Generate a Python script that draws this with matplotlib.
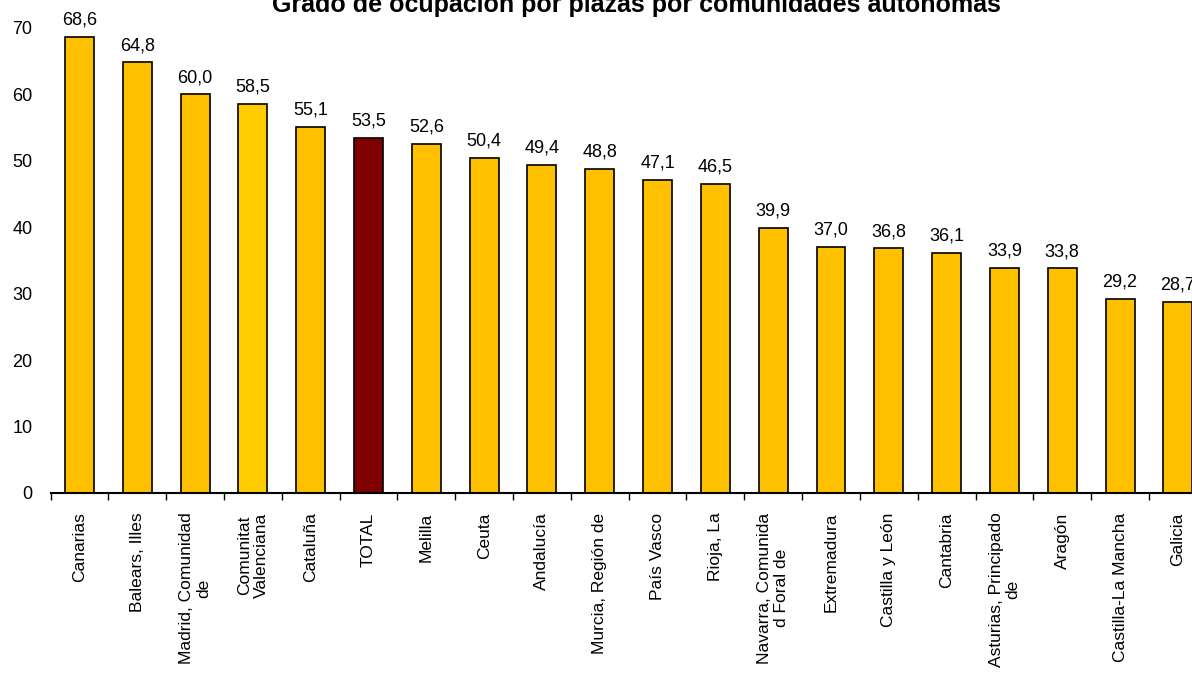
import matplotlib.pyplot as plt
import numpy as np

plt.rcParams['font.family'] = ['Liberation Sans', 'DejaVu Sans']

# Grado de ocupación por plazas (%)
regions = ['Canarias', 'Balears, Illes', 'Madrid, Comunidad\nde', 'Comunitat\nValenciana',
           'Cataluña', 'TOTAL', 'Melilla', 'Ceuta', 'Andalucía', 'Murcia, Región de',
           'País Vasco', 'Rioja, La', 'Navarra, Comunida\nd Foral de', 'Extremadura',
           'Castilla y León', 'Cantabria', 'Asturias, Principado\nde', 'Aragón',
           'Castilla-La Mancha', 'Galicia']
values = [68.6, 64.8, 60.0, 58.5, 55.1, 53.5, 52.6, 50.4, 49.4, 48.8,
          47.1, 46.5, 39.9, 37.0, 36.8, 36.1, 33.9, 33.8, 29.2, 28.7]

colors = ['#FFC000'] * len(regions)
colors[regions.index('TOTAL')] = '#800000'
colors[regions.index('Comunitat\nValenciana')] = '#FFCC00'

fig = plt.figure(figsize=(11.92, 6.73), dpi=100)
ax = fig.add_axes([0.0424, 0.2675, 0.970, 0.691])

x = np.arange(len(regions))
bars = ax.bar(x, values, width=0.5, color=colors, edgecolor='black', linewidth=1.2)

for b, v in zip(bars, values):
    ax.annotate(f'{v:.1f}'.replace('.', ','), (b.get_x() + b.get_width() / 2, v),
                xytext=(0, 6), textcoords='offset points', ha='center', va='bottom',
                fontsize=13, annotation_clip=False)

ax.set_xlim(-0.5, len(regions) - 0.5)
ax.set_ylim(0, 70)
ax.set_yticks(range(0, 71, 10))
ax.tick_params(axis='y', length=0, pad=13, labelsize=13)

ax.set_xticks(x)
ax.set_xticklabels(regions, rotation=90, fontsize=12.5, ha='center', va='top',
                   multialignment='center', linespacing=1.15)
ax.set_xticks(np.arange(len(regions) + 1) - 0.5, minor=True)
ax.tick_params(axis='x', which='major', length=0, pad=14)
ax.tick_params(axis='x', which='minor', length=5, width=1, direction='out')

for s in ['top', 'right', 'left']:
    ax.spines[s].set_visible(False)
ax.spines['bottom'].set_linewidth(1.5)

fig.text(0.534, 0.982, 'Grado de ocupación por plazas por comunidades autónomas',
         ha='center', va='baseline', fontsize=18, fontweight='bold')

plt.savefig('out.png', dpi=100)
